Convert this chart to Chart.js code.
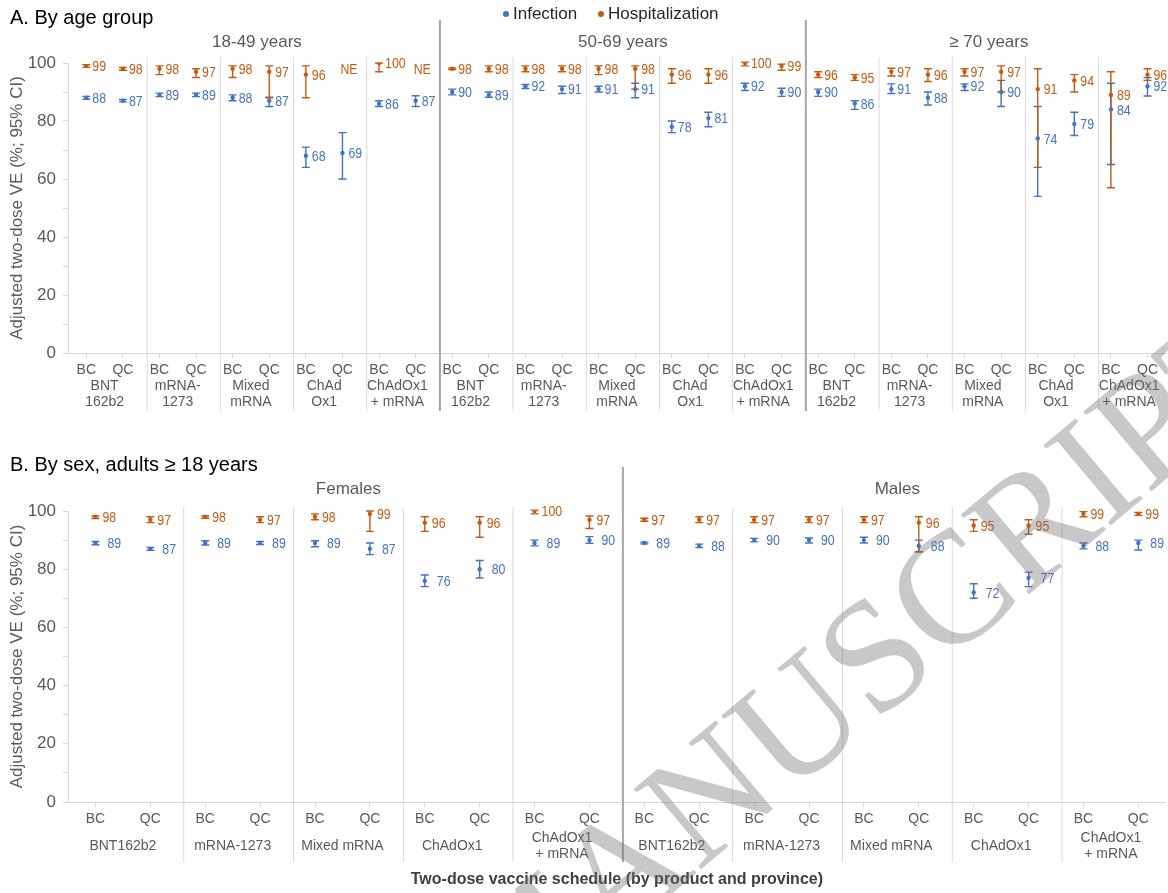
<!DOCTYPE html>
<html>
<head>
<meta charset="utf-8">
<script src="https://cdn.jsdelivr.net/npm/chart.js@4.4.0/dist/chart.umd.min.js"></script>
<style>
  html, body { margin: 0; padding: 0; background: #fff; }
  #wrapA { position: absolute; left: 0; top: 0; width: 1168px; height: 445px; }
  #wrapB { position: absolute; left: 0; top: 445px; width: 1168px; height: 448px; }
</style>
</head>
<body>
<div id="wrapA"><canvas id="chartA"></canvas></div>
<div id="wrapB"><canvas id="chartB"></canvas></div>
<script>
// categorias
const ageGroups = ['18-49 years', '50-69 years', '≥ 70 years'];
const sexGroups = ['Females', 'Males'];
const provinces = ['BC', 'QC'];
const productsA = [['BNT', '162b2'], ['mRNA-', '1273'], ['Mixed', 'mRNA'], ['ChAd', 'Ox1'], ['ChAdOx1', '+ mRNA']];
const productsB = [['BNT162b2'], ['mRNA-1273'], ['Mixed mRNA'], ['ChAdOx1'], ['ChAdOx1', '+ mRNA']];

// A. por grupo de edad (BC, QC por producto)
const infA    = [88, 87, 89, 89, 88, 87, 68, 69, 86, 87,   90, 89, 92, 91, 91, 91, 78, 81, 92, 90,   90, 86, 91, 88, 92, 90, 74, 79, 84, 92];
const infLoA  = [87.5, 86.6, 88.4, 88.4, 87, 85, 64, 60, 85, 85,   89, 88.2, 91.2, 89.5, 90, 88, 76, 78, 90.5, 88.5,   88.5, 84, 89.5, 85.5, 90.5, 85, 54, 75, 65, 88.6];
const infHiA  = [88.5, 87.4, 89.6, 89.6, 89, 88.2, 71, 76, 87, 88.7,   91, 90, 92.6, 92, 92, 93, 80, 83, 93, 91.3,   91, 87, 92.8, 90, 92.8, 94, 85, 83, 93, 95];
const hospA   = [99, 98, 98, 97, 98, 97, 96, null, 100, null,   98, 98, 98, 98, 98, 98, 96, 96, 100, 99,   96, 95, 97, 96, 97, 97, 91, 94, 89, 96];
const hospLoA = [98.5, 97.5, 96, 95, 95, 88, 88, null, 97, null,   97.7, 97, 97, 97, 96, 91, 93, 93, 99, 97.5,   95, 94, 95.5, 93.6, 95.5, 90, 64, 90, 57, 94];
const hospHiA = [99.4, 98.5, 99, 98, 99, 99, 99, null, 100, null,   98.3, 99, 99, 99, 99, 99, 98, 98, 100.3, 99.6,   97, 96, 98.2, 98, 98, 99, 98, 96, 97, 98];

// B. por sexo
const infB    = [89, 87, 89, 89, 89, 87, 76, 80, 89, 90,   89, 88, 90, 90, 90, 88, 72, 77, 88, 89];
const infLoB  = [88.4, 86.5, 88.3, 88.5, 87.7, 85, 74, 77, 88, 88.9,   88.7, 87.4, 89.4, 89, 89, 86, 70, 74, 87, 86.6];
const infHiB  = [89.5, 87.5, 89.8, 89.5, 89.8, 89, 78, 83, 90, 91.2,   89.3, 88.6, 90.6, 90.7, 91, 90, 75, 79, 89, 90];
const hospB   = [98, 97, 98, 97, 98, 99, 96, 96, 100, 97,   97, 97, 97, 97, 97, 96, 95, 95, 99, 99];
const hospLoB = [97.4, 96, 97.5, 96, 97, 93, 93, 91, 99, 94,   96.5, 96, 96, 96, 96, 86, 93, 92, 98, 98.5];
const hospHiB = [98.3, 98, 98.3, 98, 99, 100, 98, 98, 100.3, 98.3,   97.5, 98, 98, 98, 98, 98, 97, 97, 99.8, 99.5];

const BLUE = '#4472C4';
const ORANGE = '#C55A11';
const GRAY = '#595959';
const SANS = "'Liberation Sans', Arial, sans-serif";
Chart.defaults.font.family = SANS;

// barras de error (IC 95%)
const errorBars = {
  id: 'errorBars',
  beforeDatasetsDraw(chart) {
    const ctx = chart.ctx, ys = chart.scales.y;
    chart.data.datasets.forEach((ds, di) => {
      const meta = chart.getDatasetMeta(di);
      ctx.save();
      ctx.strokeStyle = ds.borderColor;
      ctx.lineWidth = 1.4;
      meta.data.forEach((pt, i) => {
        const lo = ds.lo[i], hi = ds.hi[i];
        if (lo == null || hi == null) return;
        const x = pt.x, y1 = ys.getPixelForValue(lo), y2 = ys.getPixelForValue(hi);
        ctx.beginPath();
        ctx.moveTo(x, y1); ctx.lineTo(x, y2);
        ctx.moveTo(x - 4, y1); ctx.lineTo(x + 4, y1);
        ctx.moveTo(x - 4, y2); ctx.lineTo(x + 4, y2);
        ctx.stroke();
      });
      ctx.restore();
    });
  }
};

// etiquetas de valor junto a cada punto
const valueLabels = {
  id: 'valueLabels',
  afterDatasetsDraw(chart, args, opts) {
    const ctx = chart.ctx, ys = chart.scales.y;
    chart.data.datasets.forEach((ds, di) => {
      const meta = chart.getDatasetMeta(di);
      meta.data.forEach((pt, i) => {
        const v = ds.data[i];
        const txt = v == null ? 'NE' : String(v);
        const y = ys.getPixelForValue(v == null ? opts.neAt : v);
        const x = pt.x + (v == null ? opts.neDx : ds.labelDx);
        ctx.save();
        ctx.translate(x, y);
        ctx.scale(0.82, 1);
        ctx.font = '15px ' + SANS;
        ctx.fillStyle = ds.borderColor;
        ctx.textAlign = 'left';
        ctx.textBaseline = 'middle';
        ctx.fillText(txt, 0, 1);
        ctx.restore();
      });
    });
  }
};

function text(ctx, s, x, y, font, color, align) {
  ctx.font = font;
  ctx.fillStyle = color;
  ctx.textAlign = align || 'center';
  ctx.textBaseline = 'middle';
  ctx.fillText(s, x, y);
}

// titulos, separadores y etiquetas de grupo
const decor = {
  id: 'decor',
  afterDraw(chart, args, o) {
    const ctx = chart.ctx, xs = chart.scales.x, area = chart.chartArea;
    const n = chart.data.labels.length;
    const cw = xs.getPixelForValue(1) - xs.getPixelForValue(0);
    const shift = 6;
    ctx.save();
    text(ctx, o.title, 10, o.titleY, '20px ' + SANS, '#000', 'left');

    if (o.legend) {
      [[BLUE, 'Infection', 506], [ORANGE, 'Hospitalization', 601]].forEach(([c, s, x]) => {
        ctx.fillStyle = c;
        ctx.beginPath(); ctx.arc(x, 14, 3, 0, Math.PI * 2); ctx.fill();
        text(ctx, s, x + 7, 14, '17px ' + SANS, '#262626', 'left');
      });
    }

    // separadores
    for (let k = 1; k < n / 2; k++) {
      const x = (xs.getPixelForValue(2 * k - 1) + xs.getPixelForValue(2 * k)) / 2 + shift;
      const thick = k % 5 === 0;
      ctx.strokeStyle = thick ? '#A6A6A6' : '#D9D9D9';
      ctx.lineWidth = thick ? 2 : 1;
      ctx.beginPath();
      ctx.moveTo(x, thick ? o.thickTop : o.thinTop);
      ctx.lineTo(x, o.sepBottom);
      ctx.stroke();
    }

    // encabezados de bloque
    o.blocks.forEach((b, bi) => {
      const l = xs.getPixelForValue(bi * 10) - cw / 2 + shift;
      const r = xs.getPixelForValue(bi * 10 + 9) + cw / 2 + shift;
      text(ctx, b, (l + r) / 2, o.blockY, '17px ' + SANS, GRAY);
    });

    // etiquetas de producto
    for (let g = 0; g < n / 2; g++) {
      const lines = o.groups[g % o.groups.length];
      const cx = (xs.getPixelForValue(2 * g) + xs.getPixelForValue(2 * g + 1)) / 2;
      lines.forEach((s, li) => {
        const y = o.groupY + (li - (lines.length - 1) / 2) * 16;
        text(ctx, s, cx, y, '14px ' + SANS, GRAY);
      });
    }

    // titulo eje y
    ctx.save();
    ctx.translate(17, (area.top + area.bottom) / 2);
    ctx.rotate(-Math.PI / 2);
    text(ctx, 'Adjusted two-dose VE (%; 95% CI)', 0, 0, '17px ' + SANS, GRAY);
    ctx.restore();

    if (o.xTitle) {
      text(ctx, o.xTitle, (area.left + area.right) / 2, o.xTitleY, 'bold 16px ' + SANS, '#404040');
    }
    ctx.restore();
  }
};

// marca de agua del manuscrito
const watermark = {
  id: 'watermark',
  afterDraw(chart) {
    const ctx = chart.ctx;
    const top = chart.options.plugins.decor.pageTop;
    ctx.save();
    ctx.translate(500, 1038 - top);
    ctx.rotate(-40 * Math.PI / 180);
    ctx.font = "160px 'Liberation Serif', 'Times New Roman', serif";
    ctx.fillStyle = 'rgba(110,110,110,0.38)';
    ctx.textAlign = 'left';
    ctx.textBaseline = 'alphabetic';
    ctx.fillText('MANUSCRIPT', 0, 0);
    ctx.restore();
  }
};

function buildChart(id, o) {
  return new Chart(document.getElementById(id), {
    type: 'line',
    data: {
      labels: o.labels,
      datasets: [
        { label: 'Infection', data: o.inf, lo: o.infLo, hi: o.infHi, showLine: false,
          borderColor: BLUE, backgroundColor: BLUE, labelDx: o.infDx },
        { label: 'Hospitalization', data: o.hosp, lo: o.hospLo, hi: o.hospHi, showLine: false,
          borderColor: ORANGE, backgroundColor: ORANGE, labelDx: o.hospDx }
      ]
    },
    options: {
      responsive: true,
      maintainAspectRatio: false,
      animation: false,
      elements: { point: { radius: 2.2, borderWidth: 0, hoverRadius: 2.2 } },
      layout: { padding: { top: o.padTop, left: 0, right: 0, bottom: 0 } },
      plugins: {
        legend: { display: false },
        tooltip: { enabled: false },
        valueLabels: { neAt: 98, neDx: -2 },
        decor: o.decor
      },
      scales: {
        x: {
          type: 'category',
          offset: true,
          grid: { offset: false, drawOnChartArea: false, drawTicks: true, tickLength: 5, color: '#D9D9D9' },
          border: { color: '#D9D9D9' },
          ticks: { autoSkip: false, maxRotation: 0, color: GRAY, font: { size: 14 }, padding: 4 },
          afterFit: s => { s.height = o.xHeight; }
        },
        y: {
          min: 0,
          max: 100,
          grid: { drawOnChartArea: false, tickLength: 5, color: '#D9D9D9' },
          border: { color: '#D9D9D9' },
          ticks: { stepSize: 10, color: GRAY, font: { size: 17 }, padding: 7,
                   callback: v => (v % 20 === 0 ? v : '') },
          afterFit: s => { s.width = 68; }
        }
      }
    },
    plugins: [errorBars, valueLabels, decor, watermark]
  });
}

const labelsA = ageGroups.flatMap(() => productsA.flatMap(() => provinces));
const labelsB = sexGroups.flatMap(() => productsB.flatMap(() => provinces));

buildChart('chartA', {
  labels: labelsA, inf: infA, infLo: infLoA, infHi: infHiA,
  hosp: hospA, hospLo: hospLoA, hospHi: hospHiA,
  infDx: 6, hospDx: 6, padTop: 63, xHeight: 92,
  decor: {
    pageTop: 0, title: 'A. By age group', titleY: 18, legend: true,
    blocks: ageGroups, blockY: 42, thickTop: 20, thinTop: 57, sepBottom: 411,
    groups: productsA, groupY: 394
  }
});

buildChart('chartB', {
  labels: labelsB, inf: infB, infLo: infLoB, infHi: infHiB,
  hosp: hospB, hospLo: hospLoB, hospHi: hospHiB,
  infDx: 12, hospDx: 7, padTop: 66, xHeight: 91,
  decor: {
    pageTop: 445, title: 'B. By sex, adults ≥ 18 years', titleY: 20, legend: false,
    blocks: sexGroups, blockY: 44, thickTop: 22, thinTop: 62, sepBottom: 417,
    groups: productsB, groupY: 401,
    xTitle: 'Two-dose vaccine schedule (by product and province)', xTitleY: 435
  }
});
</script>
</body>
</html>
